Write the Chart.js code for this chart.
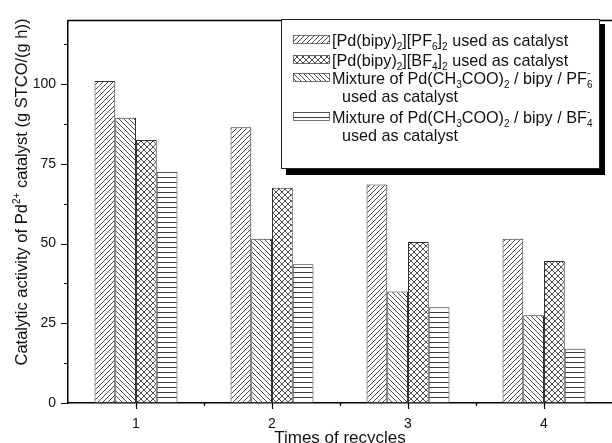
<!DOCTYPE html>
<html><head><meta charset="utf-8">
<script src="https://cdn.jsdelivr.net/npm/chart.js@4.4.0/dist/chart.umd.min.js"></script>
<style>html,body{margin:0;padding:0;background:#fff;overflow:hidden}#wrap{width:612px;height:443px}</style>
</head><body><div id="wrap"><canvas id="c" width="612" height="443"></canvas></div>
<script>
const categories = ['1', '2', '3', '4'];
const pf6Complex = [101, 86.5, 68.5, 51.5];
const pf6Mixture = [89.5, 51.5, 35, 27.5];
const bf4Complex = [82.5, 67.5, 50.5, 44.5];
const bf4Mixture = [72.5, 43.5, 30, 17];
const yTickValues = [0, 25, 50, 75, 100];
const yMinorValues = [12.5, 37.5, 62.5, 87.5, 112.5];
const label1 = ['[Pd(bipy)_{2}][PF_{6}]_{2} used as catalyst'];
const label2 = ['[Pd(bipy)_{2}][BF_{4}]_{2} used as catalyst'];
const label3 = ['Mixture of Pd(CH_{3}COO)_{2} / bipy / PF_{6}^{-}', 'used as catalyst'];
const label4 = ['Mixture of Pd(CH_{3}COO)_{2} / bipy / BF_{4}^{-}', 'used as catalyst'];
const xTitle = 'Times of recycles';
const yTitle = 'Catalytic activity of Pd^{2+} catalyst (g STCO/(g h))';

const FAM = '"Liberation Sans", Arial, Helvetica, sans-serif';
const canvas = document.getElementById('c');
const ctx = canvas.getContext('2d');

function makePattern(kind) {
  const s = kind === 'cross' ? 6 : 5;
  const c = document.createElement('canvas'); c.width = s; c.height = s;
  const g = c.getContext('2d');
  g.fillStyle = '#fff'; g.fillRect(0, 0, s, s);
  g.strokeStyle = '#3a3a3a'; g.lineWidth = 0.9;
  const fwd = () => { g.beginPath(); g.moveTo(-1, s + 1); g.lineTo(s + 1, -1); g.moveTo(-1, 1); g.lineTo(1, -1); g.moveTo(s - 1, s + 1); g.lineTo(s + 1, s - 1); g.stroke(); };
  const back = () => { g.beginPath(); g.moveTo(-1, -1); g.lineTo(s + 1, s + 1); g.moveTo(s - 1, -1); g.lineTo(s + 1, 1); g.moveTo(-1, s - 1); g.lineTo(1, s + 1); g.stroke(); };
  if (kind === 'fwd') fwd();
  if (kind === 'back') back();
  if (kind === 'cross') { fwd(); back(); }
  if (kind === 'horiz') { g.lineWidth = 1; g.beginPath(); g.moveTo(0, 2.5); g.lineTo(s, 2.5); g.stroke(); }
  return ctx.createPattern(c, 'repeat');
}
const patFwd = makePattern('fwd'), patBack = makePattern('back'), patCross = makePattern('cross'), patHoriz = makePattern('horiz');

function parseRich(str) {
  const out = []; let i = 0, buf = '';
  while (i < str.length) {
    if ((str[i] === '_' || str[i] === '^') && str[i + 1] === '{') {
      if (buf) { out.push({ t: buf, m: 'n' }); buf = ''; }
      const end = str.indexOf('}', i);
      out.push({ t: str.slice(i + 2, end), m: str[i] === '_' ? 'sub' : 'sup' });
      i = end + 1;
    } else { buf += str[i]; i++; }
  }
  if (buf) out.push({ t: buf, m: 'n' });
  return out;
}
function richWidth(g, str, size) {
  let w = 0, lastSub = 0;
  parseRich(str).forEach(s => {
    g.font = (s.m === 'n' ? size : Math.round(size * 0.62)) + 'px ' + FAM;
    const m = g.measureText(s.t).width;
    if (s.m === 'sup' && lastSub) { w += Math.max(0, m - lastSub); lastSub = 0; }
    else { w += m; lastSub = s.m === 'sub' ? m : 0; }
  });
  return w;
}
function drawRich(g, str, x, y, size) {
  let cx = x, lastSubX = null;
  g.textBaseline = 'alphabetic'; g.textAlign = 'left';
  parseRich(str).forEach(s => {
    if (s.m === 'n') {
      g.font = size + 'px ' + FAM; g.fillText(s.t, cx, y); cx += g.measureText(s.t).width; lastSubX = null;
    } else {
      const ss = Math.round(size * 0.62); g.font = ss + 'px ' + FAM;
      const sx = (s.m === 'sup' && lastSubX !== null) ? lastSubX : cx;
      const dy = s.m === 'sub' ? size * 0.3 : -size * 0.45;
      g.fillText(s.t, sx, y + dy);
      const w = g.measureText(s.t).width;
      if (s.m === 'sub') { lastSubX = cx; cx += w; } else { cx = Math.max(cx, sx + w); lastSubX = null; }
    }
  });
}

const legendItems = [
  { lines: label1, pat: patFwd, cy: 40 },
  { lines: label2, pat: patCross, cy: 60 },
  { lines: label3, pat: patBack, cy: 78 },
  { lines: label4, pat: patHoriz, cy: 117 }
];

const decor = {
  id: 'decor',
  afterDraw(chart) {
    const g = chart.ctx, a = chart.chartArea;
    const ys = chart.scales.y, xs = chart.scales.x;
    g.save();
    g.strokeStyle = '#000'; g.lineWidth = 1.5;
    g.beginPath(); g.moveTo(a.left, a.top); g.lineTo(a.right, a.top); g.stroke();
    g.lineWidth = 1.2;
    g.beginPath();
    yTickValues.forEach(v => { const p = Math.round(ys.getPixelForValue(v)) + 0.5; g.moveTo(a.left - 7, p); g.lineTo(a.left, p); });
    yMinorValues.forEach(v => { const p = Math.round(ys.getPixelForValue(v)) + 0.5; g.moveTo(a.left - 4, p); g.lineTo(a.left, p); });
    categories.forEach((c, i) => {
      const p = Math.round(xs.getPixelForValue(i)) + 0.5; g.moveTo(p, a.bottom); g.lineTo(p, a.bottom + 6);
      if (i > 0) { const q = Math.round((xs.getPixelForValue(i) + xs.getPixelForValue(i - 1)) / 2) + 0.5; g.moveTo(q, a.bottom); g.lineTo(q, a.bottom + 3); }
    });
    g.stroke();
    // y axis title (rotated, with superscript)
    g.save();
    g.fillStyle = '#111';
    const ts = 16.5;
    const tw = richWidth(g, yTitle, ts);
    g.translate(27, 192); g.rotate(-Math.PI / 2);
    drawRich(g, yTitle, -tw / 2, 0, ts);
    g.restore();
    // legend
    g.fillStyle = '#000'; g.fillRect(286, 24, 319, 151);
    g.fillStyle = '#fff'; g.fillRect(281, 19, 319, 150);
    g.strokeStyle = '#222'; g.lineWidth = 1; g.strokeRect(281.5, 19.5, 318, 149);
    legendItems.forEach(it => {
      g.fillStyle = it.pat; g.fillRect(293, it.cy - 5, 37, 9);
      g.strokeStyle = '#555'; g.lineWidth = 0.8; g.strokeRect(293.5, it.cy - 4.5, 36, 8);
      g.fillStyle = '#111';
      it.lines.forEach((ln, k) => drawRich(g, ln, k === 0 ? 332 : 342, it.cy + 5.5 + k * 18, 16.2));
    });
    g.restore();
  }
};

const common = { borderColor: '#333', borderWidth: 1, borderSkipped: false, categoryPercentage: 0.61, barPercentage: 1.0 };
new Chart(ctx, {
  type: 'bar',
  data: {
    labels: categories,
    datasets: [
      Object.assign({ label: 'PF6 complex', data: pf6Complex, backgroundColor: patFwd }, common),
      Object.assign({ label: 'PF6 mixture', data: pf6Mixture, backgroundColor: patBack }, common),
      Object.assign({ label: 'BF4 complex', data: bf4Complex, backgroundColor: patCross }, common),
      Object.assign({ label: 'BF4 mixture', data: bf4Mixture, backgroundColor: patHoriz }, common)
    ]
  },
  options: {
    responsive: false, animation: false,
    layout: { padding: { top: 12, left: 0, right: 0, bottom: 0 } },
    plugins: { legend: { display: false }, tooltip: { enabled: false } },
    scales: {
      x: {
        type: 'category', offset: true,
        grid: { display: false, drawTicks: false },
        border: { display: true, color: '#000', width: 1.5 },
        ticks: { font: { size: 14, family: FAM }, color: '#111', padding: 13 },
        title: { display: true, text: xTitle, color: '#111', font: { size: 17, family: FAM, lineHeight: 0.6 }, padding: 0 },
        afterFit: s => { s.height = 40; }
      },
      y: {
        min: 0, max: 120,
        grid: { display: false, drawTicks: false },
        border: { display: true, color: '#000', width: 1.5 },
        afterBuildTicks: s => { s.ticks = yTickValues.map(v => ({ value: v })); },
        ticks: { font: { size: 14, family: FAM }, color: '#111', padding: 12 },
        afterFit: s => { s.width = 68; }
      }
    }
  },
  plugins: [decor]
});
</script>
</body></html>
